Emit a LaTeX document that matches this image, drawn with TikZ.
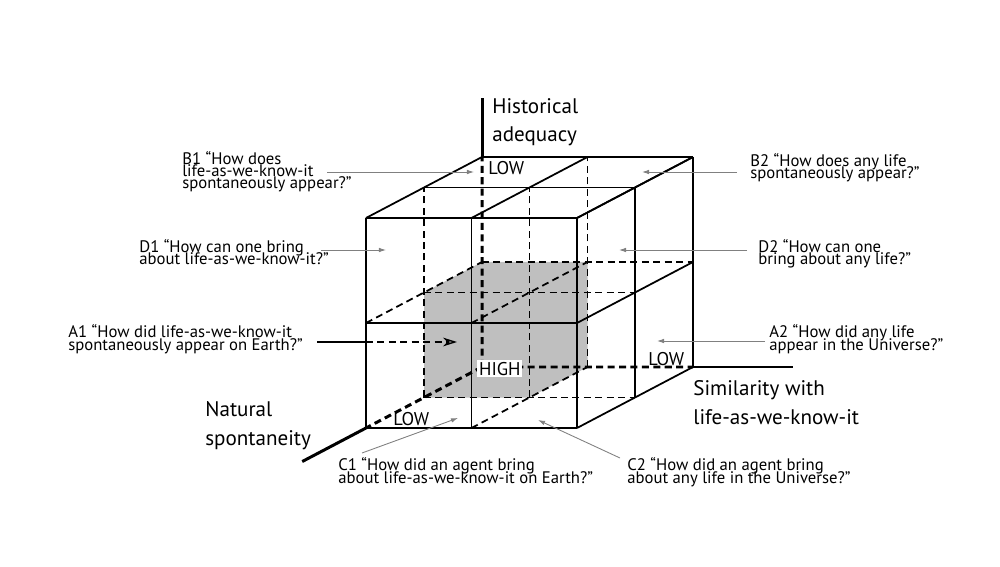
\documentclass[tikz,border=0pt]{standalone}
\usepackage{fontspec}
\setmainfont{PT Sans}
\usetikzlibrary{arrows.meta}
\newcommand\tightlines{\lineskiplimit=-100pt\relax}
\tikzset{every node/.style={align=left, inner sep=0pt}, >={Latex[length=4pt,width=2.6pt]},
  question/.style={font={\fontsize{9.5}{7}\selectfont\tightlines}, text=black, anchor=base west},
  axislabel/.style={font=\fontsize{12}{16}\selectfont, text=black, anchor=base west},
  lowhigh/.style={font=\fontsize{10.5}{12}\selectfont, text=black, anchor=base west},
  pointer/.style={->, draw=black!50, line width=0.5pt},
  cubeline/.style={line width=1pt},
  hiddenline/.style={line width=1pt, dash pattern=on 4pt off 2.5pt},
  axisline/.style={line width=1.7pt},
  cubeshade/.style={fill=black!25}}

\begin{document}
\begin{tikzpicture}[x=0.02cm, y=-0.02cm]
\useasboundingbox (0,0) rectangle (1000,567);
% the 2x2x2 cube
\begin{scope}[shift={(366,428)}, z={(58,-30.5)}, y={(0,-105)}, x={(105.5,0)}]
  \fill[cubeshade] (0,1,1) -- (0,1,2) -- (1,1,2) -- (1,0,2) -- (1,0,1) -- (0,0,1) -- cycle;
  \foreach \a/\b in {0/1,1/1,1/2} {
    \draw[hiddenline] (0,\a,\b) -- (2,\a,\b);
    \draw[hiddenline] (\a,0,\b) -- (\a,2,\b);
  }
  \foreach \a/\b in {0/1,1/0,1/1}
    \draw[hiddenline] (\a,\b,0) -- (\a,\b,2);
  \foreach \i in {0,1,2} {
    \draw[cubeline] (0,\i,0) -- (2,\i,0);
    \draw[cubeline] (\i,0,0) -- (\i,2,0);
    \draw[cubeline] (0,2,\i) -- (2,2,\i);
    \draw[cubeline] (\i,2,0) -- (\i,2,2);
    \draw[cubeline] (2,0,\i) -- (2,2,\i);
    \draw[cubeline] (2,\i,0) -- (2,\i,2);
  }
  \coordinate (high) at (0,0,2);
  \coordinate (histtop) at (0,2,2);
  \coordinate (histend) at (0,2.56,2);
  \coordinate (simtop) at (2,0,2);
  \coordinate (simend) at (2.95,0,2);
  \coordinate (natfront) at (0,0,0);
  \coordinate (natend) at (0,0,-1.1);
\end{scope}
% axes
\draw[axisline, dash pattern=on 4pt off 2.5pt] (high) -- (histtop) (high) -- (simtop) (high) -- (natfront);
\draw[axisline] (histtop) -- (histend);
\draw[axisline] (simtop) -- (simend);
\draw[axisline] (natfront) -- (natend);
\node[axislabel] (hist) at (492,142) {Historical\\adequacy};
\node[axislabel] (nat) at (205,445) {Natural\\spontaneity};
\node[axislabel] (sim) at (693,424) {Similarity with\\life-as-we-know-it};
\node[lowhigh] (lowtop) at (488,175) {LOW};
\node[lowhigh, fill=white, inner sep=1pt] (highback) at (477,375) {HIGH};
\node[lowhigh] (lowright) at (648,365) {LOW};
\node[lowhigh] (lowfront) at (393,425) {LOW};
% questions (anchored on their last line)
\node[question] (b1) at (182,189) {B1 “How does\\life-as-we-know-it\\spontaneously appear?”};
\node[question] (d1) at (139,265) {D1 “How can one bring\\about life-as-we-know-it?”};
\node[question] (a1) at (68,350) {A1 “How did life-as-we-know-it\\spontaneously appear on Earth?”};
\node[question] (b2) at (750,179) {B2 “How does any life\\spontaneously appear?”};
\node[question] (d2) at (758,265) {D2 “How can one\\bring about any life?”};
\node[question] (a2) at (769,350) {A2 “How did any life\\appear in the Universe?”};
\node[question] (c1) at (338,483) {C1 “How did an agent bring\\about life-as-we-know-it on Earth?”};
\node[question] (c2) at (627,483) {C2 “How did an agent bring\\about any life in the Universe?”};
\coordinate (b1 tail) at (327,172); \coordinate (b1 head) at (474,172);
\coordinate (d1 tail) at (321,250); \coordinate (d1 head) at (386,250);
\coordinate (a1 tail) at (317,342); \coordinate (a1 edge) at (366,342); \coordinate (a1 head) at (457,342);
\coordinate (b2 tail) at (737,172); \coordinate (b2 head) at (642,172);
\coordinate (d2 tail) at (747,250); \coordinate (d2 head) at (619,250);
\coordinate (a2 tail) at (765,341); \coordinate (a2 head) at (657,341);
\coordinate (c1 tail) at (362,453); \coordinate (c1 head) at (458,418);
\coordinate (c2 tail) at (620,458); \coordinate (c2 head) at (538,420);
\foreach \q in {b1,d1,b2,d2,a2,c1,c2}
  \draw[pointer] (\q\space tail) -- (\q\space head);
\draw[line width=0.8pt] (a1 tail) -- (a1 edge);
\draw[line width=0.8pt, dash pattern=on 4pt off 2.5pt, -{Stealth[open, length=8pt, width=5pt]}] (a1 edge) -- (a1 head);
\end{tikzpicture}
\end{document}
